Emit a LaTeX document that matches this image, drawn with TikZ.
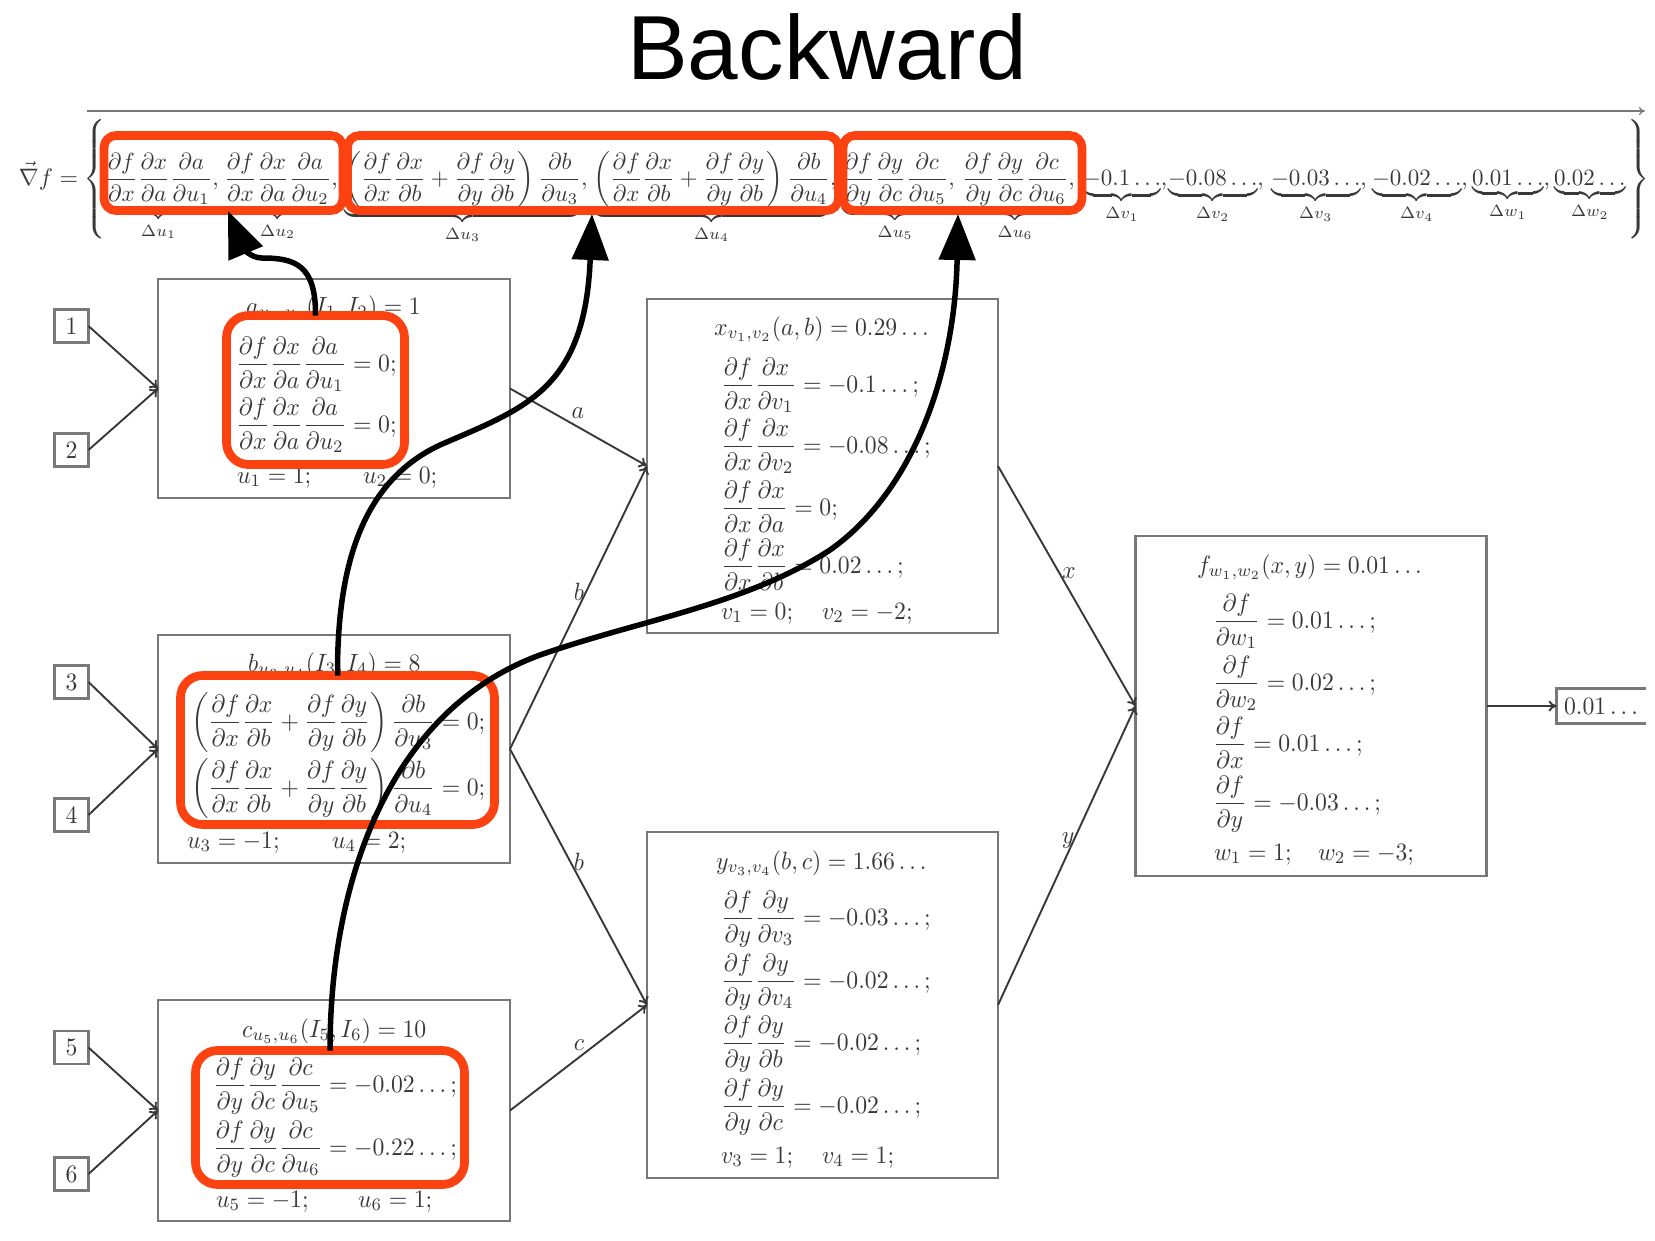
\documentclass[tikz,border=0pt]{standalone}
\usepackage{graphicx}
\usepackage{amsmath}
\usepackage{fontspec}
\setmainfont{Liberation Sans}
\usetikzlibrary{arrows.meta}
\definecolor{ink}{gray}{0.22}
\definecolor{boxline}{gray}{0.47}
\definecolor{hilite}{RGB}{252,66,16}
\newcommand{\mth}[1]{\scalebox{2.37}[2.5]{$\displaystyle #1$}}
\newcommand{\tth}[1]{\scalebox{2.3}[2.34]{$\displaystyle #1$}}
\newcommand{\pd}[2]{\frac{\partial #1}{\partial #2}}
\tikzset{
  x=1pt,y=-1pt,
  mline/.style={inner sep=0pt,outer sep=0pt,anchor=base west,text=ink},
  mmid/.style={inner sep=0pt,outer sep=0pt,anchor=base,text=ink},
  bigbox/.style={draw=boxline,line width=2.2pt,inner sep=0pt,outer sep=0pt},
  inbox/.style={draw=boxline,line width=2.2pt,inner sep=0pt,outer sep=0pt,minimum width=34pt,minimum height=33pt,text=ink},
  edge/.style={draw=ink,line width=1.9pt,-{To[length=8pt,width=11pt]}},
  hibox/.style={draw=hilite,line width=8.7pt,inner sep=0pt,outer sep=0pt,rounded corners=22pt},
  hitop/.style={draw=hilite,line width=8.7pt,inner sep=0pt,outer sep=0pt,rounded corners=12pt},
  backarrow/.style={draw=black,line width=5.5pt,-{Triangle[length=46pt,width=36pt]}},
}
\begin{document}
\begin{tikzpicture}
\useasboundingbox (0,0) rectangle (1655,1240);
% title
\node[inner sep=0pt,font=\fontsize{91}{91}\selectfont] (title) at (827,47) {Backward};
% top arrow
\coordinate (tl) at (87,111);
\coordinate (tr) at (1645,111);
\draw[draw=boxline,line width=1.2pt,-{To[length=6pt,width=8pt]}] (tl) -- (tr);
% gradient
\node[mline] (nabla) at (19,185) {\scalebox{2.38}{$\displaystyle\vec{\nabla} f =$}};
\node[inner sep=0pt,text=ink] (lb) at (96,179) {\scalebox{2.5}{$\left\{\vcenter{\hbox{\rule{0pt}{50pt}}}\right.$}};
\node[inner sep=0pt,text=ink] (rb) at (1637,179) {\scalebox{2.5}{$\left.\vcenter{\hbox{\rule{0pt}{50pt}}}\right\}$}};
\node[mline] (tu1) at (105,185) {\tth{\underbrace{\pd{f}{x}\pd{x}{a}\pd{a}{u_1}}_{\Delta u_1},}};
\node[mline] (tu2) at (224,185) {\tth{\underbrace{\pd{f}{x}\pd{x}{a}\pd{a}{u_2}}_{\Delta u_2},}};
\node[mline] (tu3) at (344,185) {\tth{\underbrace{\left(\pd{f}{x}\pd{x}{b}+\pd{f}{y}\pd{y}{b}\right)\pd{b}{u_3}}_{\Delta u_3},}};
\node[mline] (tu4) at (593,185) {\tth{\underbrace{\left(\pd{f}{x}\pd{x}{b}+\pd{f}{y}\pd{y}{b}\right)\pd{b}{u_4}}_{\Delta u_4},}};
\node[mline] (tu5) at (842,185) {\tth{\underbrace{\pd{f}{y}\pd{y}{c}\pd{c}{u_5}}_{\Delta u_5},}};
\node[mline] (tu6) at (962,185) {\tth{\underbrace{\pd{f}{y}\pd{y}{c}\pd{c}{u_6}}_{\Delta u_6},}};
\node[mline] (tv1) at (1083,185) {\tth{\underbrace{-0.1\ldots}_{\Delta v_1},}};
\node[mline] (tv2) at (1168,185) {\tth{\underbrace{-0.08\ldots}_{\Delta v_2},}};
\node[mline] (tv3) at (1271,185) {\tth{\underbrace{-0.03\ldots}_{\Delta v_3},}};
\node[mline] (tv4) at (1372,185) {\tth{\underbrace{-0.02\ldots}_{\Delta v_4},}};
\node[mline] (tw1) at (1472,185) {\tth{\underbrace{0.01\ldots}_{\Delta w_1},}};
\node[mline] (tw2) at (1554,185) {\tth{\underbrace{0.02\ldots}_{\Delta w_2}}};
% boxes
\node[bigbox,minimum width=352pt,minimum height=219pt] (a) at (334,388.5) {};
\node[bigbox,minimum width=352pt,minimum height=228pt] (b) at (334,749) {};
\node[bigbox,minimum width=352pt,minimum height=221pt] (c) at (334,1110.5) {};
\node[bigbox,minimum width=351pt,minimum height=334pt] (x) at (822.5,466) {};
\node[bigbox,minimum width=351pt,minimum height=346pt] (y) at (822.5,1005) {};
\node[bigbox,minimum width=351pt,minimum height=340pt] (f) at (1311,706) {};
% inputs
\node[inbox] (i1) at (71.5,326) {\mth{1}};
\node[inbox] (i2) at (71.5,450) {\mth{2}};
\node[inbox] (i3) at (71.5,682) {\mth{3}};
\node[inbox] (i4) at (71.5,815) {\mth{4}};
\node[inbox] (i5) at (71.5,1047.5) {\mth{5}};
\node[inbox] (i6) at (71.5,1174) {\mth{6}};
% output (cut by the edge of the image)
\node[inner sep=0pt,outer sep=0pt,minimum width=89pt,minimum height=35pt,text=ink] (out) at (1601,706) {\mth{0.01\ldots}};
\draw[boxline,line width=2.2pt] (out.north east) -- (out.north west) -- (out.south west) -- (out.south east);
% connectors
\draw[edge] (i1.east) -- (a.west);
\draw[edge] (i2.east) -- (a.west);
\draw[edge] (i3.east) -- (b.west);
\draw[edge] (i4.east) -- (b.west);
\draw[edge] (i5.east) -- (c.west);
\draw[edge] (i6.east) -- (c.west);
\draw[edge] (a.east) -- (x.west);
\draw[edge] (b.east) -- (x.west);
\draw[edge] (b.east) -- (y.west);
\draw[edge] (c.east) -- (y.west);
\draw[edge] (x.east) -- (f.west);
\draw[edge] (y.east) -- (f.west);
\draw[edge] (f.east) -- (out.west);
\node[mmid] (la) at (578,418) {\mth{a}};
\node[mmid] (lb1) at (579,600) {\mth{b}};
\node[mmid] (lb2) at (579,870) {\mth{b}};
\node[mmid] (lc) at (579,1050) {\mth{c}};
\node[mmid] (lx) at (1069,578) {\mth{x}};
\node[mmid] (ly) at (1068,843) {\mth{y}};
% box a
\node[mline] (at) at (246,314) {\mth{a_{u_1,u_2}(I_1,I_2)=1}};
\node[mline] (a1) at (236,371) {\mth{\pd{f}{x}\pd{x}{a}\pd{a}{u_1}=0;}};
\node[mline] (a2) at (236,432) {\mth{\pd{f}{x}\pd{x}{a}\pd{a}{u_2}=0;}};
\node[mline] (a3) at (237,483) {\mth{u_1=1;}};
\node[mline] (a4) at (363,483) {\mth{u_2=0;}};
% box b
\node[mline] (bt) at (248,671) {\mth{b_{u_3,u_4}(I_3,I_4)=8}};
\node[mline] (b1) at (191,729) {\mth{\left(\pd{f}{x}\pd{x}{b}+\pd{f}{y}\pd{y}{b}\right)\pd{b}{u_3}=0;}};
\node[mline] (b2) at (191,795) {\mth{\left(\pd{f}{x}\pd{x}{b}+\pd{f}{y}\pd{y}{b}\right)\pd{b}{u_4}=0;}};
\node[mline] (b3) at (187,848) {\mth{u_3=-1;}};
\node[mline] (b4) at (332,848) {\mth{u_4=2;}};
% box c
\node[mline] (ct) at (242,1037) {\mth{c_{u_5,u_6}(I_5,I_6)=10}};
\node[mline] (c1) at (213,1092) {\mth{\pd{f}{y}\pd{y}{c}\pd{c}{u_5}=-0.02\ldots;}};
\node[mline] (c2) at (213,1155) {\mth{\pd{f}{y}\pd{y}{c}\pd{c}{u_6}=-0.22\ldots;}};
\node[mline] (c3) at (216,1207) {\mth{u_5=-1;}};
\node[mline] (c4) at (358,1207) {\mth{u_6=1;}};
% box x
\node[mline] (xt) at (714,335) {\mth{x_{v_1,v_2}(a,b)=0.29\ldots}};
\node[mline] (x1) at (721,392) {\mth{\pd{f}{x}\pd{x}{v_1}=-0.1\ldots;}};
\node[mline] (x2) at (721,453) {\mth{\pd{f}{x}\pd{x}{v_2}=-0.08\ldots;}};
\node[mline] (x3) at (721,515) {\mth{\pd{f}{x}\pd{x}{a}=0;}};
\node[mline] (x4) at (721,573) {\mth{\pd{f}{x}\pd{x}{b}=0.02\ldots;}};
\node[mline] (x5) at (721,619) {\mth{v_1=0;}};
\node[mline] (x6) at (822,619) {\mth{v_2=-2;}};
% box y
\node[mline] (yt) at (716,869) {\mth{y_{v_3,v_4}(b,c)=1.66\ldots}};
\node[mline] (y1) at (721,925) {\mth{\pd{f}{y}\pd{y}{v_3}=-0.03\ldots;}};
\node[mline] (y2) at (721,988) {\mth{\pd{f}{y}\pd{y}{v_4}=-0.02\ldots;}};
\node[mline] (y3) at (721,1050) {\mth{\pd{f}{y}\pd{y}{b}=-0.02\ldots;}};
\node[mline] (y4) at (721,1113) {\mth{\pd{f}{y}\pd{y}{c}=-0.02\ldots;}};
\node[mline] (y5) at (721,1163) {\mth{v_3=1;}};
\node[mline] (y6) at (822,1163) {\mth{v_4=1;}};
% box f
\node[mline] (ft) at (1197,573) {\mth{f_{w_1,w_2}(x,y)=0.01\ldots}};
\node[mline] (f1) at (1213,628) {\mth{\pd{f}{w_1}=0.01\ldots;}};
\node[mline] (f2) at (1213,690) {\mth{\pd{f}{w_2}=0.02\ldots;}};
\node[mline] (f3) at (1213,751) {\mth{\pd{f}{x}=0.01\ldots;}};
\node[mline] (f4) at (1213,810) {\mth{\pd{f}{y}=-0.03\ldots;}};
\node[mline] (f5) at (1214,860) {\mth{w_1=1;}};
\node[mline] (f6) at (1318,860) {\mth{w_2=-3;}};
% highlights
\node[hibox,minimum width=178pt,minimum height=149pt] (oa) at (315.5,390) {};
\node[hibox,minimum width=314pt,minimum height=149pt] (ob) at (337.5,750) {};
\node[hibox,minimum width=269pt,minimum height=134pt] (oc) at (330,1117.5) {};
\node[hitop,minimum width=239pt,minimum height=75pt] (ot1) at (223.5,173) {};
\node[hitop,minimum width=491pt,minimum height=75pt] (ot2) at (593,173) {};
\node[hitop,minimum width=239pt,minimum height=75pt] (ot3) at (962.5,173) {};
% back arrows
\coordinate (t1) at (228,211);
\coordinate (t2) at (592,214);
\coordinate (t3) at (958,214);
\draw[backarrow] (oa.north) .. controls (316,265) and (295,258) .. (262,258) .. controls (250,258) and (243,247) .. (t1);
\draw[backarrow] (ob.north) .. controls (337,560) and (365,480) .. (440,445) .. controls (525,408) and (585,390) .. (t2);
\draw[backarrow] (oc.north) .. controls (330,880) and (390,710) .. (540,655) .. controls (640,620) and (745,605) .. (830,550) .. controls (915,490) and (955,370) .. (t3);
\end{tikzpicture}
\end{document}
